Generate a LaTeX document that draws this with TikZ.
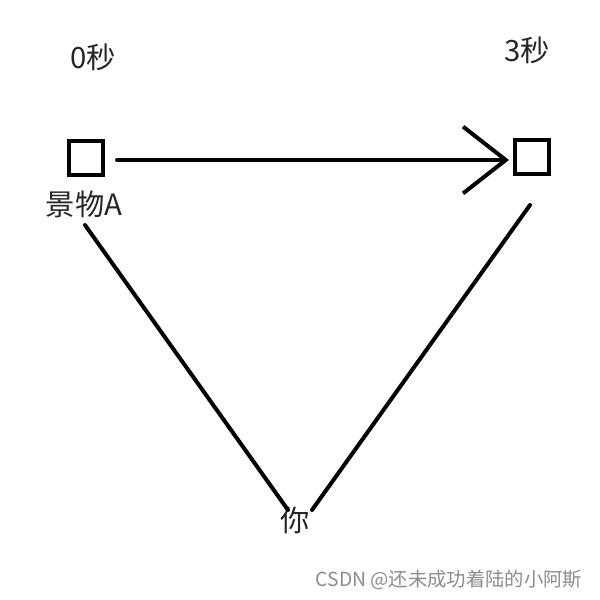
\documentclass[tikz,border=0pt]{standalone}
\usepackage{fontspec}
\newfontfamily\cjk{Noto Sans CJK SC}
\usetikzlibrary{arrows.meta}
\begin{document}
\begin{tikzpicture}[x=0.75pt,y=-0.75pt,
  box/.style={draw=black,line width=3pt,minimum size=25.5pt,inner sep=0pt},
  lbl/.style={font=\cjk\fontsize{22}{24}\selectfont,text=black!85,inner sep=0pt},
  conn/.style={line width=3pt,line cap=round},
  wm/.style={font=\cjk\fontsize{14.5}{16}\selectfont,text=black!45,inner sep=0pt}]
\useasboundingbox (0,0) rectangle (600,600);
\node[box] (sa) at (86,158) {};
\node[box] (sb) at (532,157) {};
\node[lbl] (t0) at (93,57) {0秒};
\node[lbl] (t3) at (527,50) {3秒};
\node[lbl] (la) at (84,204) {景物A};
\node[lbl] (you) at (295,520) {你};
\node[wm] (w) at (449,580) {CSDN @还未成功着陆的小阿斯};
\coordinate (a1) at (85,225);
\coordinate (a2) at (288,510);
\coordinate (b1) at (530,205);
\coordinate (b2) at (312,510);
\draw[conn,-{Straight Barb[length=32pt,width=50pt,line width=3pt]}] ([xshift=9pt,yshift=-1.5pt]sa.east) -- ([xshift=-3pt,yshift=-2.25pt]sb.west);
\draw[conn] (a1) -- (a2);
\draw[conn] (b1) -- (b2);
\end{tikzpicture}
\end{document}
